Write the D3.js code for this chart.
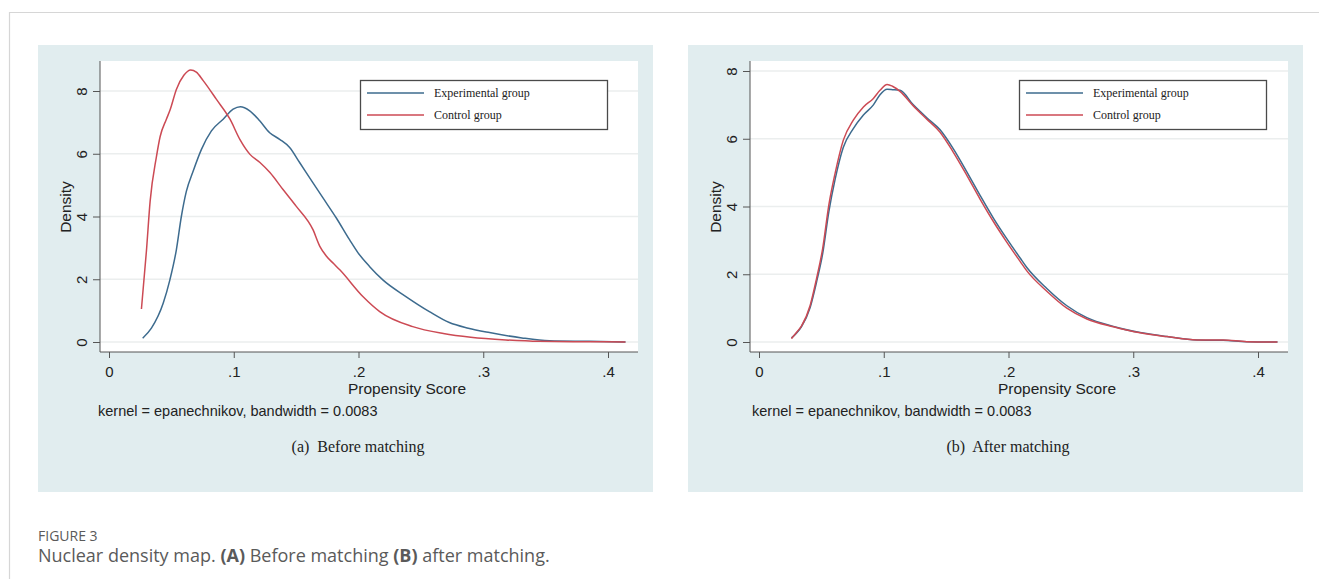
<!DOCTYPE html>
<html>
<head>
<meta charset="utf-8">
<script src="https://cdn.jsdelivr.net/npm/d3@7"></script>
<style>
  html, body { margin: 0; padding: 0; background: #ffffff; }
  svg { display: block; }
  .tick text { font-family: 'Liberation Sans', Arial, sans-serif; font-size: 15px; fill: #222; }
</style>
</head>
<body>
<svg id="fig" width="1319" height="579"></svg>
<script>
// Kernel density estimates of the propensity score, before and after matching
const groups = ["Experimental group", "Control group"];
const yTicks = [0, 2, 4, 6, 8];
const xTicks = [0, 0.1, 0.2, 0.3, 0.4];
const xTickLabels = ["0", ".1", ".2", ".3", ".4"];

// (a) before matching
const beforeExpScore = [0.027, 0.034, 0.0435, 0.0488, 0.054, 0.058, 0.062, 0.0675, 0.0741, 0.0821, 0.0915,
  0.0995, 0.1053, 0.1128, 0.1208, 0.1288, 0.1368, 0.1448, 0.1528, 0.1634, 0.1714, 0.1821, 0.1928,
  0.1995, 0.2088, 0.2195, 0.238, 0.2568, 0.2728, 0.288, 0.305, 0.331, 0.353, 0.385, 0.414];
const beforeExpDensity = [0.12, 0.44, 1.24, 1.98, 2.94, 4.0, 4.8, 5.45, 6.14, 6.73, 7.1,
  7.42, 7.5, 7.37, 7.05, 6.67, 6.46, 6.2, 5.72, 5.08, 4.6, 3.96, 3.26,
  2.85, 2.41, 1.98, 1.45, 0.97, 0.62, 0.44, 0.3, 0.13, 0.04, 0.02, 0.0];

const beforeCtrlScore = [0.026, 0.03, 0.033, 0.038, 0.041, 0.046, 0.049, 0.054, 0.06, 0.0655,
  0.07, 0.0755, 0.086, 0.097, 0.105, 0.113, 0.121, 0.129, 0.1395, 0.15, 0.1635, 0.169, 0.174,
  0.18, 0.185, 0.2035, 0.217, 0.2435, 0.268, 0.29, 0.318, 0.345, 0.38, 0.414];
const beforeCtrlDensity = [1.05, 2.9, 4.5, 5.9, 6.55, 7.1, 7.4, 8.05, 8.5, 8.67,
  8.6, 8.33, 7.74, 7.1, 6.45, 5.98, 5.72, 5.4, 4.86, 4.33, 3.58, 3.05, 2.75,
  2.5, 2.3, 1.45, 0.97, 0.49, 0.27, 0.15, 0.065, 0.02, 0.01, 0.0];

// (b) after matching
const afterScore = [0.026, 0.03, 0.034, 0.041, 0.046, 0.051, 0.056, 0.061, 0.0676, 0.0756,
  0.0837, 0.0917, 0.097, 0.1027, 0.107, 0.113, 0.1237, 0.1345, 0.145, 0.1558, 0.1666, 0.1772,
  0.188, 0.1986, 0.2093, 0.2147, 0.2307, 0.2468, 0.2628, 0.2841, 0.3055, 0.327, 0.351, 0.372,
  0.391, 0.4156];
const afterExpDensity = [0.12, 0.26, 0.45, 1.02, 1.75, 2.6, 3.85, 4.8, 5.75, 6.3,
  6.7, 7.0, 7.3, 7.46, 7.45, 7.43, 7.0, 6.62, 6.27, 5.7, 5.02, 4.33,
  3.65, 3.05, 2.48, 2.2, 1.58, 1.07, 0.72, 0.46, 0.28, 0.16, 0.06, 0.05,
  0.01, 0.0];
const afterCtrlDensity = [0.1, 0.28, 0.47, 1.08, 1.85, 2.75, 4.05, 4.98, 5.96, 6.55,
  6.94, 7.19, 7.43, 7.6, 7.55, 7.4, 6.97, 6.58, 6.2, 5.6, 4.92, 4.22,
  3.55, 2.95, 2.38, 2.1, 1.5, 1.0, 0.68, 0.45, 0.27, 0.16, 0.06, 0.06,
  0.01, 0.0];

const colors = { exp: "#3d6b8e", ctrl: "#cc4a54" };

const panels = [
  {
    left: 38, ySpan8: 251, legendX: 322, subtitle: "(a)  Before matching", kernelDx: -2,
    series: [
      { x: beforeExpScore, y: beforeExpDensity, color: colors.exp },
      { x: beforeCtrlScore, y: beforeCtrlDensity, color: colors.ctrl }
    ]
  },
  {
    left: 688, ySpan8: 271, legendX: 331, subtitle: "(b)  After matching", kernelDx: 2,
    series: [
      { x: afterScore, y: afterExpDensity, color: colors.exp },
      { x: afterScore, y: afterCtrlDensity, color: colors.ctrl }
    ]
  }
];

const svg = d3.select("#fig");
const sans = "'Liberation Sans', Arial, sans-serif";
const serif = "'Liberation Serif', 'Times New Roman', serif";

// outer page frame
svg.append("path")
  .attr("d", "M9.5,579 L9.5,12.5 L1319,12.5")
  .attr("fill", "none").attr("stroke", "#d6d6d6").attr("stroke-width", 1.2);

panels.forEach(p => {
  const g = svg.append("g").attr("transform", `translate(${p.left},0)`);
  const panelW = 615, top = 45, bottom = 492;
  const axisX = 62, plotRight = 600, plotTop = 61, axisY = 352, zeroY = 342;

  g.append("rect").attr("x", 0).attr("y", top).attr("width", panelW).attr("height", bottom - top)
    .attr("fill", "#e1edef");
  g.append("rect").attr("x", axisX).attr("y", plotTop).attr("width", plotRight - axisX)
    .attr("height", axisY - plotTop).attr("fill", "#ffffff");

  const x = d3.scaleLinear().domain([0, 0.4]).range([71, 570]);
  const y = d3.scaleLinear().domain([0, 8]).range([zeroY, zeroY - p.ySpan8]);

  // horizontal grid
  g.append("g").selectAll("line").data(yTicks).join("line")
    .attr("x1", axisX).attr("x2", plotRight)
    .attr("y1", d => y(d)).attr("y2", d => y(d))
    .attr("stroke", "#ebeeee").attr("stroke-width", 1.3);

  // y axis
  const yAxis = g.append("g").attr("transform", `translate(${axisX},0)`)
    .call(d3.axisLeft(y).tickValues(yTicks).tickSize(7).tickPadding(4).tickFormat(d3.format("d")));
  yAxis.select(".domain").attr("d", `M0,${plotTop}V${axisY}`).attr("stroke", "#555");
  yAxis.selectAll(".tick line").attr("stroke", "#555");
  yAxis.selectAll(".tick text")
    .attr("x", 0).attr("dy", null).attr("text-anchor", "middle")
    .attr("transform", "translate(-19,0) rotate(-90)")
    .attr("dominant-baseline", "central");

  // x axis
  const xAxis = g.append("g").attr("transform", `translate(0,${axisY})`)
    .call(d3.axisBottom(x).tickValues(xTicks).tickSize(6).tickPadding(8)
      .tickFormat((d, i) => xTickLabels[i]));
  xAxis.select(".domain").attr("d", `M${axisX},0H${plotRight}`).attr("stroke", "#555");
  xAxis.selectAll(".tick line").attr("stroke", "#555");

  // axis titles
  g.append("text").attr("x", 369).attr("y", 394).attr("text-anchor", "middle")
    .attr("font-family", sans).attr("font-size", 15.5).attr("fill", "#222").text("Propensity Score");
  g.append("text").attr("transform", `translate(27,207) rotate(-90)`).attr("text-anchor", "middle")
    .attr("dominant-baseline", "central")
    .attr("font-family", sans).attr("font-size", 15.5).attr("fill", "#222").text("Density");

  // density curves
  const line = d3.line().curve(d3.curveMonotoneX);
  p.series.forEach(s => {
    const pts = s.x.map((v, i) => [x(v), y(s.y[i])]);
    g.append("path").attr("d", line(pts)).attr("fill", "none")
      .attr("stroke", s.color).attr("stroke-width", 1.5).attr("stroke-linejoin", "round");
  });

  // legend
  const lg = g.append("g").attr("transform", `translate(${p.legendX},80)`);
  lg.append("rect").attr("x", 0.5).attr("y", 0.5).attr("width", 247).attr("height", 49)
    .attr("fill", "#ffffff").attr("stroke", "#4a4a4a").attr("stroke-width", 1.3);
  groups.forEach((name, i) => {
    const ly = 13 + i * 22;
    lg.append("line").attr("x1", 7).attr("x2", 64).attr("y1", ly).attr("y2", ly)
      .attr("stroke", i === 0 ? colors.exp : colors.ctrl).attr("stroke-width", 1.5);
    lg.append("text").attr("x", 74).attr("y", ly).attr("dominant-baseline", "central")
      .attr("font-family", serif).attr("font-size", 12).attr("fill", "#222").text(name);
  });

  // kernel note
  g.append("text").attr("x", axisX + p.kernelDx).attr("y", 416)
    .attr("font-family", sans).attr("font-size", 14.5).attr("fill", "#222")
    .text("kernel = epanechnikov, bandwidth = 0.0083");

  // panel subtitle
  g.append("text").attr("x", 320).attr("y", 452).attr("text-anchor", "middle")
    .attr("font-family", serif).attr("font-size", 16).attr("fill", "#222")
    .attr("xml:space", "preserve").style("white-space", "pre").text(p.subtitle);
});

// figure caption
svg.append("text").attr("x", 38).attr("y", 541)
  .attr("font-family", "'Open Sans', 'Noto Sans', sans-serif").attr("font-size", 14)
  .attr("fill", "#5a5a5a").text("FIGURE 3");
const cap = svg.append("text").attr("x", 38).attr("y", 562)
  .attr("font-family", "'Open Sans', 'Noto Sans', sans-serif").attr("font-size", 18)
  .attr("fill", "#5a5a5a");
cap.append("tspan").text("Nuclear density map. ");
cap.append("tspan").attr("font-weight", "bold").text("(A)");
cap.append("tspan").text(" Before matching ");
cap.append("tspan").attr("font-weight", "bold").text("(B)");
cap.append("tspan").text(" after matching.");
</script>
</body>
</html>
